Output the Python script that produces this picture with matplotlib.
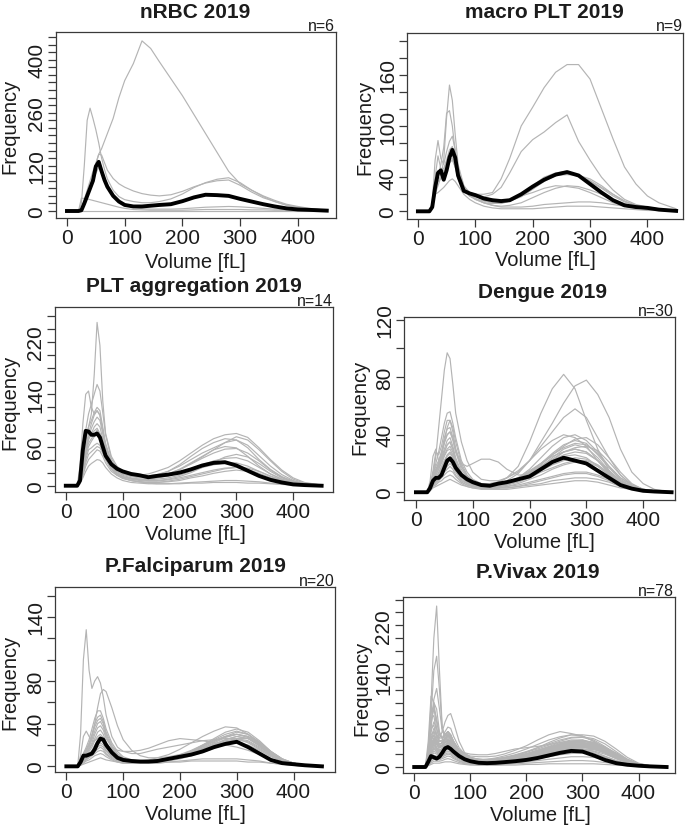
import matplotlib
matplotlib.use("Agg")
import matplotlib.pyplot as plt

plt.rcParams['font.family'] = ['Liberation Sans', 'DejaVu Sans']

# ---------------- data ----------------
VOLUME = [0, 20, 25, 30, 35, 40, 45, 50, 55, 60, 65, 70, 80, 90, 100, 115, 130, 145, 160,
          180, 200, 220, 240, 260, 280, 300, 320, 340, 360, 380, 400, 420, 450]

TITLES = ["nRBC 2019", "macro PLT 2019", "PLT aggregation 2019",
          "Dengue 2019", "P.Falciparum 2019", "P.Vivax 2019"]
N_SAMPLES = [6, 9, 14, 30, 20, 78]
X_TICKS = [0, 100, 200, 300, 400]
Y_TICK_LABELS = [[0, 120, 260, 400], [0, 40, 100, 160], [0, 60, 140, 220],
                 [0, 40, 80, 120], [0, 40, 80, 140], [0, 60, 140, 220]]
Y_TICK_TOP = [460, 200, 260, 120, 160, 260]

NRBC_MEDIAN = [0,0, 2,20,40,60,80,118,130,105,82,64, 40,25,16, 12,12,14,16,
               18,26,36,43,42,40,32,25,18,12,7,4,3,1]
NRBC_CASES = [
    [0,0, 5,30,55,80,105,125,150,165,185,205, 245,300,345, 390,450,430,395, 350,305,255,205,155,105,72,55,40,28,18,12,7,2],
    [0,0, 20,120,240,272,245,215,180,140,110,85, 55,38,30, 25,22,22,25, 32,45,62,75,84,88,75,55,38,25,15,9,5,2],
    [0,0, 5,25,45,65,90,125,150,148,128,108, 86,72,63, 53,46,42,40, 43,52,64,74,80,82,68,50,35,25,16,10,6,2],
    [0,0, 34,33,32,30,28,26,24,22,20,18, 14,10,7, 4,3,2,2, 2,2,3,4,4,4,4,3,3,2,2,1,1,0],
    [0,0, 0,0,0,0,0,0,0,0,0,0, 0,0,0, 0,0,0,0, 0,0,0,0,0,0,0,0,0,0,0,0,0,0],
    [0,0, 5,20,40,60,80,100,115,110,90,70, 45,28,18, 10,6,5,5, 5,6,8,10,11,12,11,9,7,5,4,3,2,1],
]

MACRO_MEDIAN = [0,0, 5,28,45,48,37,48,63,72,63,42, 24,21,19, 15,13,12,13,
                20,29,37,43,46,42,32,22,13,7,5,4,2,0.5]
MACRO_CASES = [
    [0,0, 5,30,45,42,45,55,65,65,55,40, 25,20,20, 20,22,38,62, 100,122,145,163,172,172,155,120,85,52,32,18,10,3],
    [0,0, 4,25,35,38,40,50,60,62,52,38, 24,18,17, 17,20,28,45, 70,84,93,104,113,82,60,40,25,14,8,5,3,1],
    [0,0, 3,20,30,40,60,110,148,130,90,55, 30,22,18, 13,10,9,12, 20,30,40,45,47,42,35,27,18,11,7,4,3,1],
    [0,0, 5,25,40,55,75,115,118,100,70,45, 25,18,14, 10,7,6,7, 10,16,22,27,30,29,25,20,14,9,5,3,2,1],
    [0,0, 10,60,83,62,55,70,82,88,72,50, 30,20,15, 10,7,5,5, 5,6,8,9,10,11,11,10,8,6,4,3,2,1],
    [0,0, 8,40,65,50,50,60,72,76,62,45, 27,18,15, 12,10,10,12, 17,26,35,42,43,42,36,28,20,12,7,4,2,1],
    [0,0, 5,20,22,25,28,32,36,38,35,30, 20,14,10, 6,4,3,3, 3,3,4,5,6,6,6,5,4,3,2,1,1,0],
    [0,0, 5,30,40,38,40,50,57,60,52,40, 26,20,14, 10,9,10,13, 18,22,27,30,29,27,22,16,10,6,4,2,1,0],
    [0,0, 6,35,48,45,48,58,66,72,60,48, 28,22,20, 17,14,12,12, 18,26,36,42,44,42,38,30,20,12,6,3,2,1],
]

AGGR_MEDIAN = [0,0, 8,55,84,83,78,78,80,74,60,46, 33,26,22, 18,16,13,15,
               17,20,25,31,35,36,31,23,15,9,5,2,1,0]
AGGR_CASES = [
    [0,0, 10,40,70,90,110,170,250,215,130,80, 45,30,22, 18,15,14,15, 18,25,35,45,55,60,58,45,30,18,10,5,2,0],
    [0,0, 30,95,140,145,120,110,115,108,85,60, 35,25,20, 17,15,15,17, 22,32,45,57,66,72,70,58,40,25,14,7,3,1],
    [0,0, 12,45,85,110,125,140,155,145,112,78, 42,27,20, 16,14,14,16, 22,30,40,50,58,66,70,62,46,30,17,8,3,1],
    [0,0, 10,40,70,90,100,112,120,115,90,65, 38,25,18, 15,13,13,14, 18,25,33,42,50,56,57,50,38,24,13,6,2,0],
    [0,0, 8,35,60,80,95,108,115,108,85,60, 35,24,18, 14,12,12,12, 15,20,26,32,38,42,43,38,28,18,10,5,2,0],
    [0,0, 6,30,55,75,88,98,105,100,80,58, 34,22,16, 12,10,9,10, 12,16,22,28,32,35,35,30,22,14,8,4,2,0],
    [0,0, 5,25,50,70,80,90,95,90,72,52, 30,20,14, 10,8,7,7, 9,12,16,20,24,27,28,25,19,12,7,3,1,0],
    [0,0, 5,25,55,75,78,84,88,80,65,48, 28,18,12, 8,6,5,5, 7,10,14,18,22,26,28,27,22,15,9,5,2,0],
    [0,0, 4,20,40,55,58,62,65,62,52,40, 25,16,11, 8,6,5,5, 6,8,12,15,19,22,24,22,18,12,7,3,1,0],
    [0,0, 4,18,35,48,52,56,60,58,50,40, 26,18,14, 11,9,8,8, 10,14,20,28,36,44,48,44,34,22,12,6,2,0],
    [0,0, 3,12,22,30,34,37,40,39,35,28, 18,12,8, 5,4,3,3, 3,4,5,6,7,8,8,7,6,4,3,2,1,0],
    [0,0, 3,15,30,40,45,50,55,53,45,35, 22,16,13, 11,10,10,12, 16,24,34,44,55,66,75,70,55,38,22,10,4,1],
    [0,0, 5,25,50,65,72,78,85,80,65,48, 30,22,18, 16,16,18,22, 28,38,50,62,72,78,80,74,58,40,24,12,5,1],
    [0,0, 4,20,45,60,68,75,80,76,62,46, 28,18,12, 8,6,4,3, 3,3,4,4,5,5,5,4,4,3,2,1,1,0],
]

DENGUE_MEDIAN = [0,0, 3,8,10,10,12,17,22,23.5,21,17, 12,9,7, 5,4.5,6,7,
                 9,11,16,21,24,22,20,15,10,5,2.5,1,0.5,0]
DENGUE_CASES = [
    [0,0, 3,12,25,45,65,85,97,93,75,55, 35,22,14, 9,8,8,10, 14,22,35,48,62,74,78,68,52,30,14,6,2,0],
    [0,0, 3,10,15,20,25,35,45,50,45,35, 20,12,8, 6,6,7,10, 18,35,55,72,82,72,50,30,15,7,3,1,0,0],
    [0,0, 4,12,18,22,28,34,40,42,38,30, 18,11,7, 5,5,6,8, 13,22,32,42,52,58,52,38,24,12,5,2,1,0],
    [0,0, 4,12,20,28,38,48,55,56,48,38, 22,14,9, 6,5,5,7, 10,16,24,32,38,40,36,28,18,10,5,2,1,0],
    [0,0, 5,15,28,26,32,42,50,50,42,30, 18,11,7, 5,4,4,6, 9,14,20,27,33,36,34,26,17,9,4,2,1,0],
    [0,0, 3,10,16,20,28,38,44,45,38,28, 16,10,7, 5,4,4,5, 8,12,18,24,30,33,31,24,15,8,4,2,1,0],
    [0,0, 3,10,15,20,26,35,40,42,36,28, 20,18,20, 23,23,21,16, 12,12,16,22,28,30,28,22,14,8,4,2,1,0],
    [0,0, 3,9,14,18,24,30,36,38,32,24, 14,9,6, 4,4,4,6, 9,14,20,26,31,34,33,27,18,10,5,2,1,0],
    [0,0, 3,8,12,16,22,28,33,35,30,22, 13,8,5, 4,3,4,5, 8,12,17,22,26,28,27,22,15,8,4,2,1,0],
    [0,0, 8,25,30,22,20,25,29,30,26,20, 12,8,5, 4,4,5,7, 10,14,18,22,25,26,24,18,12,6,3,1,0,0],
    [0,0, 2,7,10,14,18,22,26,28,25,19, 11,7,5, 4,4,5,7, 10,15,20,25,28,30,28,22,14,7,3,1,0,0],
    [0,0, 2,6,9,12,16,20,23,25,22,17, 10,7,5, 4,4,5,6, 8,11,15,19,22,24,23,19,13,7,3,1,0,0],
    [0,0, 2,6,8,10,13,17,20,22,20,15, 9,6,4, 3,3,3,4, 6,9,12,16,19,21,21,18,12,6,3,1,0,0],
    [0,0, 2,5,8,10,12,15,18,20,18,14, 8,6,4, 3,3,4,5, 7,10,14,17,20,22,22,19,13,7,3,1,0,0],
    [0,0, 2,5,7,9,11,14,16,18,16,12, 7,5,4, 3,3,3,4, 5,7,9,11,13,14,14,12,9,5,2,1,0,0],
    [0,0, 2,4,6,8,10,12,14,15,14,11, 7,5,4, 3,3,3,3, 4,6,8,10,12,13,13,11,8,4,2,1,0,0],
    [0,0, 1,4,5,7,8,10,11,12,11,9, 6,4,3, 3,3,3,3, 4,5,6,8,9,10,10,9,7,4,2,1,0,0],
    [0,0, 1,3,4,5,6,7,8,9,8,7, 5,4,3, 2,2,2,2, 3,4,5,6,7,8,8,7,5,3,2,1,0,0],
    [0,0, 3,9,14,18,22,28,33,35,30,22, 13,9,7, 6,6,7,10, 15,22,30,36,40,38,32,22,13,6,3,1,0,0],
    [0,0, 3,8,12,16,20,26,30,32,28,21, 12,8,5, 4,4,4,6, 9,13,19,26,32,37,38,33,24,14,6,2,1,0],
    [0,0, 2,6,10,13,17,21,25,27,24,18, 11,7,5, 4,4,5,6, 9,13,18,23,28,31,32,29,21,12,5,2,1,0],
]

FALCI_MEDIAN = [0,0, 4,10,10,11,12,16,22,26,25,20, 13,8,6, 5,4.5,4.5,5,
                7,9,11,14,18,21,23,18,12,6,3,2,1,0]
FALCI_CASES = [
    [0,0, 30,100,128,90,73,80,84,78,65,48, 28,18,14, 12,12,14,16, 18,20,22,24,25,26,26,22,16,10,5,3,1,0],
    [0,0, 3,10,15,20,28,40,55,68,72,70, 55,38,25, 15,10,8,8, 9,11,13,16,18,20,22,20,15,9,5,2,1,0],
    [0,0, 4,12,18,25,35,45,52,52,45,35, 22,14,9, 6,5,5,6, 8,10,13,17,21,25,28,26,20,12,6,3,1,0],
    [0,0, 4,12,16,22,30,40,46,48,42,32, 20,12,8, 5,4,4,5, 7,9,12,16,20,24,26,24,18,11,5,2,1,0],
    [0,0, 3,10,15,20,28,37,43,45,40,30, 18,11,7, 5,4,4,5, 7,10,14,19,24,28,30,27,20,12,6,3,1,0],
    [0,0, 3,9,13,18,25,33,40,42,37,28, 17,10,7, 5,5,5,6, 8,11,15,20,25,30,33,30,22,13,6,3,1,0],
    [0,0, 3,8,12,16,22,30,36,38,34,26, 18,15,14, 14,15,17,20, 24,26,25,24,22,20,18,15,11,7,4,2,1,0],
    [0,0, 10,28,33,28,24,24,26,28,26,22, 15,10,7, 5,4,4,5, 7,10,14,19,24,28,30,28,22,14,7,3,1,0],
    [0,0, 3,7,10,14,18,24,28,30,27,21, 13,8,6, 4,4,4,5, 7,10,14,18,23,28,32,30,23,14,7,3,1,0],
    [0,0, 2,6,9,12,15,20,23,25,22,17, 11,7,5, 4,4,4,5, 7,9,13,17,22,27,30,28,21,12,6,2,1,0],
    [0,0, 2,5,8,10,13,17,20,22,20,15, 10,6,4, 3,3,3,4, 6,8,12,16,20,25,28,26,19,11,5,2,1,0],
    [0,0, 2,5,7,9,12,15,18,20,18,14, 9,6,4, 3,3,3,3, 4,5,6,7,7,7,7,6,5,3,2,1,0,0],
    [0,0, 2,5,7,9,11,14,16,18,16,12, 8,5,4, 3,3,4,5, 7,10,14,20,26,32,35,32,24,14,7,3,1,0],
    [0,0, 2,4,6,8,10,12,14,15,14,11, 7,5,4, 3,3,3,4, 5,7,10,13,17,22,26,26,20,12,6,3,1,0],
    [0,0, 1,3,5,6,8,10,11,12,11,9, 6,4,3, 3,3,3,4, 6,8,11,15,19,23,25,23,17,10,5,2,1,0],
    [0,0, 3,8,12,16,20,26,32,34,30,23, 14,9,6, 5,5,6,8, 11,16,22,28,33,37,36,30,21,12,6,3,1,0],
    [0,0, 1,2,3,4,5,6,7,8,7,6, 5,4,3, 3,3,3,3, 4,4,5,5,5,5,5,4,4,3,2,1,0,0],
]

VIVAX_MEDIAN = [0,0, 8,17,15,13,16,22,29,31,28,24, 17,12,9, 6.5,6,6.5,7.5,
                9,11,14,18,22,25,24,18,11,6,3.5,2,1,0]
VIVAX_CASES = [
    [0,0, 20,100,200,250,150,60,50,48,44,38, 25,16,12, 9,8,8,9, 11,14,18,22,26,28,27,22,15,8,4,2,1,0],
    [0,0, 15,80,150,172,120,60,45,42,38,32, 22,15,11, 9,8,8,9, 11,14,17,21,25,28,28,24,17,10,5,2,1,0],
    [0,0, 12,60,105,122,90,55,50,55,50,40, 26,18,13, 10,9,9,10, 13,17,22,28,33,36,36,31,22,13,6,3,1,0],
    [0,0, 40,110,100,70,50,45,50,55,48,38, 24,16,12, 10,10,11,13, 16,20,26,32,38,42,42,36,26,15,7,3,1,0],
    [0,0, 10,40,55,50,45,55,70,80,83,70, 40,22,15, 12,11,12,14, 18,23,30,38,45,50,48,40,28,16,8,3,1,0],
    [0,0, 25,70,90,75,50,45,50,55,50,40, 25,17,13, 11,11,12,14, 18,23,28,34,40,45,46,42,32,20,10,4,1,0],
    [0,0, 20,55,70,60,45,45,55,62,60,48, 30,20,15, 12,11,11,12, 15,19,24,30,36,40,42,38,30,20,11,5,2,0],
    [0,0, 15,45,60,50,40,42,50,55,50,40, 26,18,14, 12,11,12,14, 17,21,26,31,36,40,41,38,30,20,10,4,1,0],
    [0,0, 12,40,50,42,35,38,45,50,46,38, 25,17,13, 11,10,10,12, 15,19,24,29,34,38,40,38,31,22,12,5,2,0],
    [0,0, 10,35,45,38,32,35,42,46,42,34, 22,15,12, 10,10,11,13, 16,20,25,30,35,38,38,35,28,18,9,4,1,0],
    [0,0, 10,30,40,35,30,32,38,42,40,32, 21,14,11, 9,9,10,12, 15,18,23,28,33,37,38,36,29,20,11,5,2,0],
    [0,0, 8,28,38,30,26,28,34,38,35,29, 19,13,10, 8,8,9,11, 14,18,22,26,30,33,34,31,25,17,9,4,1,0],
    [0,0, 8,25,35,30,25,27,32,35,33,27, 18,13,10, 9,9,10,12, 14,17,20,24,28,30,31,29,23,15,8,3,1,0],
    [0,0, 6,22,30,26,22,24,28,32,30,25, 17,12,10, 9,9,10,12, 15,19,24,28,32,35,35,33,27,19,10,4,1,0],
    [0,0, 6,20,28,24,20,22,26,30,28,23, 15,11,9, 8,8,9,11, 14,18,22,27,31,34,34,31,24,16,8,3,1,0],
    [0,0, 5,18,25,22,19,21,25,28,26,21, 14,10,8, 7,7,8,10, 13,16,20,24,28,31,32,30,24,16,9,4,1,0],
    [0,0, 5,15,22,20,17,19,22,25,23,19, 13,9,7, 6,6,7,9, 12,15,19,23,27,30,31,29,23,15,8,3,1,0],
    [0,0, 4,12,18,17,15,17,20,22,21,17, 12,8,6, 5,5,6,8, 10,13,16,20,23,26,27,25,20,13,7,3,1,0],
    [0,0, 4,10,15,14,13,15,18,20,19,15, 10,7,5, 4,4,5,6, 8,10,13,16,19,21,22,20,16,10,5,2,1,0],
    [0,0, 3,8,12,12,11,13,15,17,16,13, 9,6,5, 4,4,4,5, 6,8,10,12,14,16,16,15,12,8,4,2,1,0],
    [0,0, 3,6,9,9,9,10,12,13,12,10, 7,5,4, 3,3,3,4, 5,6,7,8,9,10,10,9,7,5,3,1,0,0],
    [0,0, 8,30,45,40,35,38,45,50,46,38, 26,20,17, 16,16,17,20, 26,33,42,50,55,52,48,40,30,19,10,4,1,0],
    [0,0, 6,22,32,28,25,28,34,38,36,30, 20,15,12, 11,12,14,17, 22,28,35,42,47,50,50,48,40,28,15,6,2,0],
    [0,0, 10,35,42,36,30,32,38,42,40,34, 26,22,20, 19,19,21,24, 28,30,32,35,38,40,40,37,30,20,10,4,1,0],
    [0,0, 2,4,6,6,6,7,8,8,8,7, 5,4,3, 3,3,3,3, 3,4,4,5,5,5,5,5,4,3,2,1,0,0],
    [0,0, 30,85,95,60,40,40,45,50,46,38, 25,17,13, 11,10,11,13, 16,20,25,30,35,38,38,34,26,17,9,4,1,0],
    [0,0, 25,75,80,50,35,38,44,48,44,36, 24,16,12, 10,10,11,12, 15,19,24,29,34,37,37,33,26,17,9,4,1,0],
    [0,0, 20,60,65,45,32,34,40,44,40,33, 22,15,11, 9,9,10,12, 15,18,22,27,31,34,35,32,25,16,8,3,1,0],
    [0,0, 18,50,55,40,30,32,37,40,37,30, 20,14,10, 9,9,10,11, 14,17,21,25,29,32,33,31,25,17,9,4,1,0],
    [0,0, 15,45,48,35,27,29,34,37,34,28, 19,13,10, 8,8,9,11, 13,16,20,24,28,31,32,30,24,16,8,3,1,0],
    [0,0, 12,38,42,30,24,26,30,34,31,26, 17,12,9, 8,8,9,10, 12,15,19,23,27,29,30,28,22,15,8,3,1,0],
    [0,0, 22,65,100,90,55,45,48,52,48,40, 26,18,14, 12,12,13,15, 19,24,30,36,42,46,47,44,36,24,12,5,2,0],
    [0,0, 10,30,35,27,22,24,28,31,29,24, 16,11,8, 7,7,8,9, 11,14,17,21,24,27,28,27,22,15,8,3,1,0],
]

MEDIANS = [NRBC_MEDIAN, MACRO_MEDIAN, AGGR_MEDIAN, DENGUE_MEDIAN, FALCI_MEDIAN, VIVAX_MEDIAN]
CASES = [NRBC_CASES, MACRO_CASES, AGGR_CASES, DENGUE_CASES, FALCI_CASES, VIVAX_CASES]

# ---------------- layout (pixels) ----------------
W, H = 685, 829
LAYOUT = [
    dict(box=(56, 33, 336, 219), xlim=(-19, 466), ylim=(-18.5, 473.5),
         title=(195, 12), n=(335, 31), xlab=(195, 263), ylab=(10, 126)),
    dict(box=(407, 34, 683, 220), xlim=(-19, 462), ylim=(-9, 209),
         title=(544, 12), n=(683, 31), xlab=(545, 261), ylab=(365, 127)),
    dict(box=(55, 308, 333, 493), xlim=(-19, 470), ylim=(-9.6, 273.6),
         title=(194, 287), n=(333, 306), xlab=(195, 535), ylab=(10, 402)),
    dict(box=(404, 318, 675, 501), xlim=(-21, 456), ylim=(-5.4, 121.9),
         title=(543, 292), n=(674, 316), xlab=(544, 542), ylab=(360, 407)),
    dict(box=(55, 588, 335, 773), xlim=(-20, 473), ylim=(-5.3, 168),
         title=(195, 567), n=(335, 586), xlab=(195, 815), ylab=(10, 682)),
    dict(box=(403, 598, 675, 774), xlim=(-20, 465), ylim=(-9.3, 264),
         title=(538, 573), n=(674, 596), xlab=(540, 816), ylab=(362, 688)),
]

GREY = '#b4b4b4'
AXC = '#3a3a3a'
TXT = '#1c1c1c'

fig = plt.figure(figsize=(W / 100, H / 100), dpi=100)


def fx(x):
    return x / W


def fy(y):
    return 1 - y / H


for i, lay in enumerate(LAYOUT):
    l, t, r, b = lay['box']
    ax = fig.add_axes([fx(l), fy(b), (r - l) / W, (b - t) / H])
    for case in CASES[i]:
        ax.plot(VOLUME, case, color=GREY, lw=0.85, solid_joinstyle='round')
    ax.plot(VOLUME, MEDIANS[i], color='black', lw=2.8, solid_joinstyle='round')
    ax.set_xlim(*lay['xlim'])
    ax.set_ylim(*lay['ylim'])
    ax.set_xticks(X_TICKS)
    ax.set_xticklabels([str(v) for v in X_TICKS])
    yt = list(range(0, Y_TICK_TOP[i] + 1, 20))
    ax.set_yticks(yt)
    ax.set_yticklabels([str(v) if v in Y_TICK_LABELS[i] else '' for v in yt])
    for s in ax.spines.values():
        s.set_color(AXC)
        s.set_linewidth(0.9)
    ax.tick_params(axis='both', direction='out', length=6, width=0.9, color=AXC,
                   labelsize=15, labelcolor=TXT)
    ax.tick_params(axis='x', pad=1.5)
    ax.tick_params(axis='y', pad=1)
    for lab in ax.get_yticklabels():
        lab.set_rotation(90)
        lab.set_va('center')
        lab.set_ha('right')

    fig.text(fx(lay['title'][0]), fy(lay['title'][1]), TITLES[i], ha='center', va='center',
             fontsize=15, fontweight='bold', color=TXT)
    fig.text(fx(lay['n'][0]), fy(lay['n'][1]), f"n={N_SAMPLES[i]}", ha='right', va='baseline',
             fontsize=11.5, color=TXT)
    fig.text(fx(lay['xlab'][0]), fy(lay['xlab'][1]), "Volume [fL]", ha='center', va='center',
             fontsize=14.5, color=TXT)
    fig.text(fx(lay['ylab'][0]), fy(lay['ylab'][1]), "Frequency", ha='center', va='center',
             rotation=90, fontsize=14.5, color=TXT)

fig.savefig('out.png', dpi=100)
